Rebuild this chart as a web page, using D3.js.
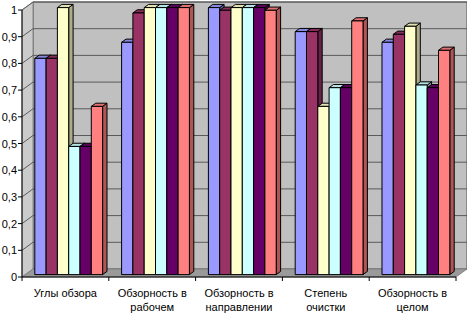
<!DOCTYPE html>
<html><head><meta charset="utf-8">
<script src="https://cdn.jsdelivr.net/npm/d3@7"></script>
<style>body{margin:0;background:#fff}svg{display:block}</style>
</head><body>
<script>
const categories = [["Углы обзора"], ["Обзорность в", "рабочем"], ["Обзорность в", "направлении"], ["Степень", "очистки"], ["Обзорность в", "целом"]];
const seriesNames = ["Ряд1", "Ряд2", "Ряд3", "Ряд4", "Ряд5", "Ряд6"];
const colors = ["#9999FF", "#993366", "#FFFFCC", "#CCFFFF", "#660066", "#FF8080"];
// values[series][category]
const s1 = [0.81, 0.87, 1.00, 0.91, 0.87];
const s2 = [0.81, 0.98, 0.99, 0.91, 0.90];
const s3 = [1.00, 1.00, 1.00, 0.63, 0.93];
const s4 = [0.48, 1.00, 1.00, 0.70, 0.71];
const s5 = [0.48, 1.00, 1.00, 0.70, 0.70];
const s6 = [0.63, 1.00, 0.99, 0.95, 0.84];
const values = [s1, s2, s3, s4, s5, s6];
const yTicks = [0, 0.1, 0.2, 0.3, 0.4, 0.5, 0.6, 0.7, 0.8, 0.9, 1];

const W = 467, H = 315;
const svg = d3.select("body").append("svg").attr("width", W).attr("height", H);
const x0 = 22, x1 = 456, yBot = 277, yTop = 10;
const DX = 11, DY = 8; // full depth offset
const y = d3.scaleLinear().domain([0, 1]).range([yBot, yTop]);
const xc = d3.scaleBand().domain(d3.range(categories.length)).range([x0, x1]).paddingInner(0).paddingOuter(0);
const xs = d3.scaleBand().domain(d3.range(seriesNames.length)).range([0, xc.bandwidth()]).paddingInner(0).paddingOuter(0.84);
const P = (px, py, d) => [px + d * DX, py - d * DY];
const poly = pts => pts.map(p => p.join(",")).join(" ");

// walls
svg.append("polygon").attr("points", poly([P(x0, y(0), 1), P(x1, y(0), 1), P(x1, y(1), 1), P(x0, y(1), 1)]))
  .attr("fill", "#c0c0c0").attr("stroke", "#555").attr("stroke-width", 1);
svg.append("polygon").attr("points", poly([P(x0, y(0), 0), P(x0, y(0), 1), P(x0, y(1), 1), P(x0, y(1), 0)]))
  .attr("fill", "#cbcbcb").attr("stroke", "#777").attr("stroke-width", 0.8);
svg.append("polygon").attr("points", poly([P(x0, y(0), 0), P(x1, y(0), 0), P(x1, y(0), 1), P(x0, y(0), 1)]))
  .attr("fill", "#9a9a9a").attr("stroke", "#777").attr("stroke-width", 0.8);

// gridlines
yTicks.forEach(t => {
  if (t === 0) return;
  const a = P(x0, y(t), 0), b = P(x0, y(t), 1), c = P(x1, y(t), 1);
  svg.append("polyline").attr("points", poly([a, b, c])).attr("fill", "none")
    .attr("stroke", "#5a5a5a").attr("stroke-width", 1);
});

// bars
const d0 = 0.3, d1 = 0.7;
categories.forEach((cat, ci) => {
  seriesNames.forEach((s, si) => {
    const v = values[si][ci];
    const xl = xc(ci) + xs(si), xr = xl + xs.bandwidth();
    const base = d3.color(colors[si]);
    const g = svg.append("g").attr("stroke", "#000").attr("stroke-width", 1).attr("stroke-linejoin", "round");
    // side face
    g.append("polygon").attr("points", poly([P(xr, y(0), d0), P(xr, y(0), d1), P(xr, y(v), d1), P(xr, y(v), d0)]))
      .attr("fill", base.darker(1.1).formatHex());
    // top face
    g.append("polygon").attr("points", poly([P(xl, y(v), d0), P(xr, y(v), d0), P(xr, y(v), d1), P(xl, y(v), d1)]))
      .attr("fill", base.darker(0.35).formatHex());
    // front face
    g.append("polygon").attr("points", poly([P(xl, y(0), d0), P(xr, y(0), d0), P(xr, y(v), d0), P(xl, y(v), d0)]))
      .attr("fill", base.formatHex());
  });
});

// value axis
svg.append("line").attr("x1", x0).attr("x2", x0).attr("y1", y(0)).attr("y2", y(1)).attr("stroke", "#000");
yTicks.forEach(t => {
  svg.append("line").attr("x1", x0 - 4).attr("x2", x0).attr("y1", y(t)).attr("y2", y(t)).attr("stroke", "#000");
  svg.append("text").attr("x", 17).attr("y", y(t) + 4).attr("text-anchor", "end")
    .attr("font-family", "Liberation Sans, Arial, sans-serif").attr("font-size", 11)
    .text(t === 0 ? "0" : t === 1 ? "1" : d3.format(".1f")(t).replace(".", ","));
});

// category axis
svg.append("line").attr("x1", x0).attr("x2", x1).attr("y1", y(0)).attr("y2", y(0)).attr("stroke", "#000");
d3.range(categories.length + 1).forEach(i => {
  const xx = i < categories.length ? xc(i) : x1;
  svg.append("line").attr("x1", xx).attr("x2", xx).attr("y1", y(0)).attr("y2", y(0) + 4).attr("stroke", "#000");
});
categories.forEach((cat, ci) => {
  const t = svg.append("text").attr("text-anchor", "middle")
    .attr("font-family", "Liberation Sans, Arial, sans-serif").attr("font-size", 11);
  cat.forEach((line, li) => {
    t.append("tspan").attr("x", xc(ci) + xc.bandwidth() / 2).attr("y", 297 + li * 14).text(line);
  });
});
</script>
</body></html>
